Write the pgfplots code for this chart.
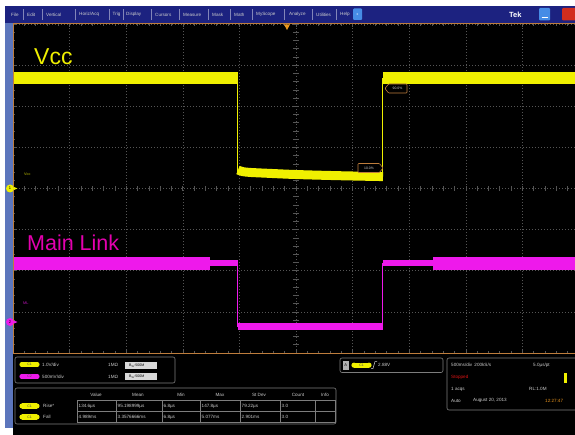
\documentclass[border=0pt]{standalone}
\usepackage{pgfplots}
\pgfplotsset{compat=1.18}
\usepackage{fontspec}
\setmainfont{Liberation Sans}

\definecolor{tekyellow}{RGB}{240,240,0}
\definecolor{tekmag}{RGB}{238,25,235}
\definecolor{mltext}{RGB}{228,0,175}
\definecolor{menublue}{RGB}{28,34,128}
\definecolor{stripblue}{RGB}{92,118,188}
\definecolor{frame}{RGB}{190,125,60}
\definecolor{gridgray}{RGB}{85,85,85}
\definecolor{uitext}{RGB}{205,205,205}
\definecolor{boxline}{RGB}{125,125,125}
\definecolor{stopred}{RGB}{220,20,20}
\definecolor{clockorange}{RGB}{235,150,30}
\definecolor{btnblue}{RGB}{70,140,230}
\definecolor{btnred}{RGB}{210,45,30}

\newcommand{\ui}{\fontsize{4.6}{5}\selectfont}
\newcommand{\pill}[4]{% x, y, colour, label
  \fill[#3] (#1,#2-2.6) rectangle (#1+15,#2+2.6);
  \fill[#3] (#1,#2) circle (2.6) (#1+15,#2) circle (2.6);
  \node[font=\fontsize{3.5}{4}\selectfont, text=black!70] at (#1+7.5,#2) {#4};}

\begin{document}
\begin{tikzpicture}[x=1pt,y=1pt]
\path[use as bounding box] (0,0) rectangle (575,-435);
\clip (0,0) rectangle (575,-435);
% screen background
\fill[white] (0,0) rectangle (575,-435);
\fill[black] (5,-6) rectangle (575,-435);
\fill[menublue] (5,-6) rectangle (575,-23);
\fill[stripblue] (5,-23) rectangle (12.5,-428);
\fill[white] (0,-428) rectangle (12.5,-435);

\begin{axis}[
    at={(13pt,-353pt)}, anchor=south west,
    scale only axis, width=566pt, height=329pt,
    xmin=0, xmax=10, ymin=-4, ymax=4,
    axis line style={draw=none},
    xtick={0,...,10}, ytick={-4,...,4},
    xticklabels={}, yticklabels={},
    minor x tick num=4, minor y tick num=4,
    tick align=inside,
    major tick length=3pt, minor tick length=2pt,
    tick style={gridgray, line width=0.6pt},
    grid=major,
    major grid style={gridgray, line width=0.6pt, dash pattern=on 0.6pt off 2.4pt},
    clip=true,
    ]
% centre cross ticks
\pgfplotsinvokeforeach{0,...,50}{
  \draw[gridgray, line width=0.6pt] (axis cs:#1/5,-0.06) -- (axis cs:#1/5,0.06);}
\pgfplotsinvokeforeach{-20,...,20}{
  \draw[gridgray, line width=0.6pt] (axis cs:4.955,#1/5) -- (axis cs:5.045,#1/5);}

% Vcc (channel 1)
\addplot[tekyellow, line width=12pt] coordinates {(-0.2,2.68) (3.975,2.68)};
\addplot[tekyellow, line width=1pt] coordinates {(3.975,2.68) (3.975,0.40)};
\addplot[tekyellow, line width=9pt, smooth] coordinates {
  (3.975,0.45) (4.06,0.41) (4.20,0.39) (4.50,0.37) (5.00,0.34) (5.80,0.31) (6.537,0.29)};
\addplot[tekyellow, line width=1pt] coordinates {(6.537,0.30) (6.537,2.69)};
\addplot[tekyellow, line width=12pt] coordinates {(6.537,2.69) (10.3,2.69)};

% Main Link (channel 2)
\addplot[tekmag, line width=13pt] coordinates {(-0.2,-1.83) (3.48,-1.83)};
\addplot[tekmag, line width=6pt] coordinates {(3.48,-1.81) (3.975,-1.81)};
\addplot[tekmag, line width=1pt] coordinates {(3.975,-1.81) (3.975,-3.36)};
\addplot[tekmag, line width=7pt] coordinates {(3.975,-3.36) (6.537,-3.36)};
\addplot[tekmag, line width=1pt] coordinates {(6.537,-3.36) (6.537,-1.81)};
\addplot[tekmag, line width=6pt] coordinates {(6.537,-1.81) (7.42,-1.81)};
\addplot[tekmag, line width=13pt] coordinates {(7.42,-1.83) (10.3,-1.83)};
\end{axis}

% graticule frame and trigger marker
\draw[frame, line width=1pt] (580,-24) -- (13,-24) -- (13,-353) -- (580,-353);
\fill[clockorange] (284,-24.5) -- (290,-24.5) -- (287,-30) -- cycle;

% waveform labels
\node[anchor=base west, inner sep=0, text=tekyellow, font=\fontsize{23}{23}\selectfont] at (34,-65) {Vcc};
\node[anchor=base west, inner sep=0, text=mltext, font=\fontsize{21.5}{22}\selectfont] at (27,-251) {Main Link};
\node[anchor=west, inner sep=0, text=tekyellow!80!black, font=\fontsize{3.8}{4}\selectfont] at (24,-174) {Vcc};
\node[anchor=west, inner sep=0, text=tekmag!80!black, font=\fontsize{3.8}{4}\selectfont] at (23,-303) {ML};

% ground markers
\fill[tekyellow] (10,-188.5) circle (4);
\fill[tekyellow] (14,-187) -- (17.5,-188.5) -- (14,-190) -- cycle;
\node[font=\fontsize{4}{4}\selectfont, text=black] at (10,-188.5) {1};
\fill[tekmag] (10,-322) circle (4);
\fill[tekmag] (14,-320.5) -- (17.5,-322) -- (14,-323.5) -- cycle;
\node[font=\fontsize{4}{4}\selectfont, text=black] at (10,-322) {2};

% cursor level markers
\draw[frame, line width=0.6pt, fill=black, rounded corners=0.8pt]
  (385,-88.5) -- (388.5,-84) -- (407,-84) -- (407,-93) -- (388.5,-93) -- cycle;
\node[font=\fontsize{3.4}{4}\selectfont, text=uitext] at (397.5,-88.5) {90.0\%};
\draw[frame, line width=0.6pt, fill=black, rounded corners=0.8pt]
  (383,-168) -- (379.5,-163.5) -- (358,-163.5) -- (358,-172.5) -- (379.5,-172.5) -- cycle;
\node[font=\fontsize{3.4}{4}\selectfont, text=uitext] at (369,-168) {10.0\%};

% menu bar
\foreach \t/\x in {File/11,Edit/27,Vertical/46,{Horiz/Acq}/79,Trig/112.5,Display/126,
    Cursors/155,Measure/183,Mask/212,Math/234,MyScope/256,Analyze/289,Utilities/316,Help/340}
  \node[anchor=west, inner sep=0, text=uitext, font=\ui] at (\x,-14.5) {\t};
\foreach \x in {23,42,75,109,123,151,179,208,230,252,284,312,336}
  \draw[white!45!menublue, line width=0.4pt] (\x,-9) -- (\x,-20);
\fill[btnblue, rounded corners=1pt] (353,-8.5) rectangle (362,-20);
\node[font=\fontsize{3.5}{4}\selectfont, text=white] at (357.5,-14.3) {x};
\node[anchor=west, inner sep=0, text=white, font=\fontsize{7.5}{8}\bfseries\selectfont] at (509,-14.5) {Tek};
\fill[btnblue, rounded corners=1pt] (539,-8) rectangle (550,-20.5);
\draw[white, line width=0.8pt] (541.5,-17.5) -- (547.5,-17.5);
\fill[btnred, rounded corners=1pt] (562,-8) rectangle (576,-20.5);

% channel settings box
\draw[boxline, line width=0.6pt, rounded corners=2pt] (15,-357) rectangle (175,-383);
\pill{22}{-364.5}{tekyellow}{C1}
\pill{22}{-376.5}{tekmag}{C2}
\node[anchor=west, inner sep=0, text=uitext, font=\ui] at (42,-364.5) {1.0V/div};
\node[anchor=west, inner sep=0, text=uitext, font=\ui] at (42,-376.5) {500mV/div};
\node[anchor=west, inner sep=0, text=uitext, font=\ui] at (108,-364.5) {1MΩ};
\node[anchor=west, inner sep=0, text=uitext, font=\ui] at (108,-376.5) {1MΩ};
\foreach \y in {-365.5,-376.5} {
  \fill[white!85!black] (125,\y+3.5) rectangle (157,\y-3.5);
  \node[anchor=west, inner sep=0, text=black, font=\fontsize{3.6}{4}\selectfont] at (129,\y) {B\textsubscript{W}:500M};}

% measurement table
\draw[boxline, line width=0.6pt, rounded corners=2pt] (15,-388) rectangle (336,-424);
\foreach \t/\x in {Value/96,Mean/138,Min/181,Max/220,{St Dev}/259,Count/298,Info/325}
  \node[text=uitext, font=\ui, inner sep=0] at (\x,-395) {\t};
\draw[boxline, line width=0.5pt] (77,-400.5) rectangle (335,-422.5);
\draw[boxline, line width=0.5pt] (77,-411.5) -- (335,-411.5);
\foreach \x in {116,162,200,240,280,315}
  \draw[boxline, line width=0.5pt] (\x,-400.5) -- (\x,-422.5);
\pill{22}{-406}{tekyellow}{C1}
\pill{22}{-417}{tekyellow}{C1}
\node[anchor=west, inner sep=0, text=uitext, font=\ui] at (43,-406) {Rise*};
\node[anchor=west, inner sep=0, text=uitext, font=\ui] at (43,-417) {Fall};
\foreach \t/\x in {134.6µs/78.5,95.198999µs/117.5,6.8µs/163.5,147.8µs/201.5,79.22µs/241.5,3.0/281.5}
  \node[anchor=west, inner sep=0, text=uitext, font=\ui] at (\x,-406) {\t};
\foreach \t/\x in {4.989ms/78.5,3.3576666ms/117.5,6.8µs/163.5,5.077ms/201.5,2.901ms/241.5,3.0/281.5}
  \node[anchor=west, inner sep=0, text=uitext, font=\ui] at (\x,-417) {\t};

% trigger box
\draw[boxline, line width=0.6pt, rounded corners=2pt] (340,-358) rectangle (443,-372.5);
\fill[white!70!black] (342.5,-361) rectangle (349,-369.5);
\node[font=\fontsize{4}{4}\selectfont, text=black] at (345.7,-365.2) {A};
\pill{354}{-365.2}{tekyellow}{C1}
\draw[uitext, line width=0.5pt] (371,-368.5) -- (373,-368.5) -- (375,-361.5) -- (377,-361.5);
\node[anchor=west, inner sep=0, text=uitext, font=\ui] at (378,-365.2) {2.88V};

% acquisition box
\draw[boxline, line width=0.6pt, rounded corners=2pt] (447,-358) rectangle (580,-410);
\node[anchor=west, inner sep=0, text=uitext, font=\ui] at (451,-365) {500ms/div\enspace 200kS/s};
\node[anchor=west, inner sep=0, text=uitext, font=\ui] at (533,-365) {5.0µs/pt};
\node[anchor=west, inner sep=0, text=stopred, font=\ui] at (451,-377) {Stopped};
\fill[tekyellow] (564,-373) rectangle (566.5,-383);
\node[anchor=west, inner sep=0, text=uitext, font=\ui] at (451,-389) {1 acqs};
\node[anchor=west, inner sep=0, text=uitext, font=\ui] at (529,-389) {RL:1.0M};
\node[anchor=west, inner sep=0, text=uitext, font=\ui] at (451,-400.5) {Auto};
\node[anchor=west, inner sep=0, text=uitext, font=\ui] at (473,-400.5) {August 20, 2013};
\node[anchor=west, inner sep=0, text=clockorange, font=\ui] at (545,-400.5) {12:27:47};
\end{tikzpicture}
\end{document}
